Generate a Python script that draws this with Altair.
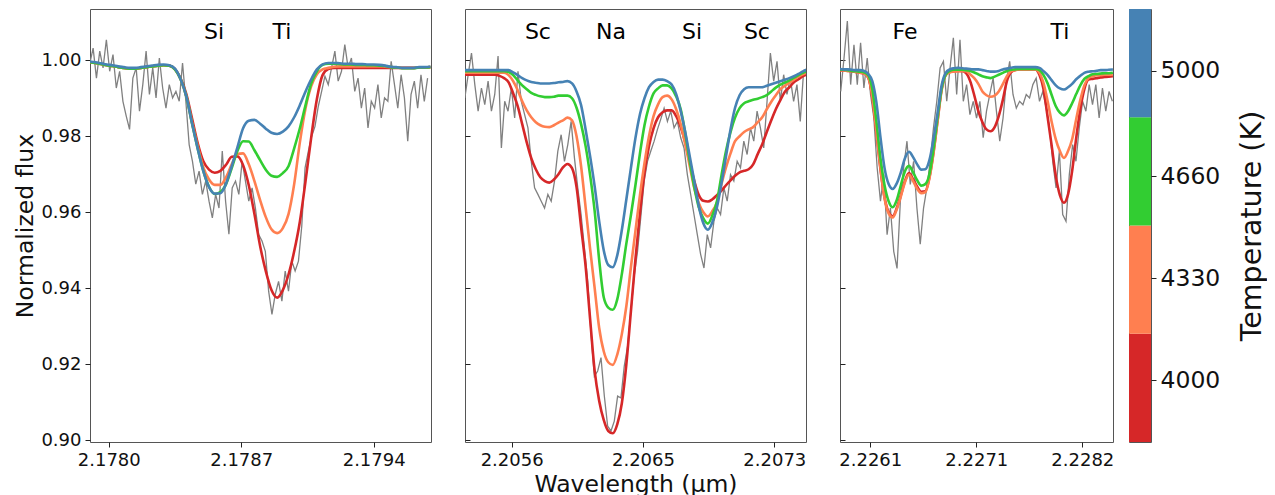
import altair as alt
import pandas as pd

FONT = "DejaVu Sans"

TEMPS = [4000, 4330, 4660, 5000]
LINE_COLORS = ["#d62728", "#ff7f50", "#32cd32", "#4682b4"]
OBS_COLOR = "#808080"
CB_EDGES = [3800, 4150, 4500, 4850, 5200]

Y_DOMAIN = [0.8995, 1.0135]
Y_TICKS = [0.90, 0.92, 0.94, 0.96, 0.98, 1.00]
LABEL_FLUX = 1.0055

# ---------------- panel 1 ----------------
P1_DOMAIN = [2.177901, 2.179703]
P1_TICKS = [2.1780, 2.1787, 2.1794]
P1_TICK_LABELS = ["2.1780", "2.1787", "2.1794"]
P1_LINES = ["Si", "Ti"]
P1_LINE_WL = [2.178556, 2.178915]
P1_OBS_W0, P1_OBS_STEP = 2.1779, 0.0000175
P1_OBS = [0.9992, 1.0032, 0.9953, 1.0024, 0.9980, 1.0054, 0.9971, 1.0015, 0.9927, 0.9971,
          0.9892, 0.9853, 0.9818, 0.9953, 0.9980, 0.9866, 0.9936, 1.0024, 0.9910, 0.9980,
          0.9901, 1.0006, 0.9927, 0.9874, 0.9936, 0.9901, 0.9918, 0.9892, 0.9993, 0.9892,
          0.9778, 0.9734, 0.9674, 0.9708, 0.9647, 0.9682, 0.9629, 0.9585, 0.9647, 0.9611,
          0.9761, 0.9629, 0.9542, 0.9664, 0.9682, 0.9647, 0.9734, 0.9682, 0.9629, 0.9664,
          0.9611, 0.9541, 0.9524, 0.9497, 0.9392, 0.9331, 0.9384, 0.9418, 0.9366, 0.9445,
          0.9392, 0.9471, 0.9445, 0.9471, 0.9563, 0.9717, 0.9761, 0.9800, 0.9826, 0.9879,
          0.9918, 0.9958, 0.9936, 0.9980, 1.0024, 0.9945, 0.9971, 1.0041, 0.9980, 1.0006,
          0.9918, 0.9953, 0.9874, 0.9927, 0.9822, 0.9892, 0.9874, 0.9936, 0.9848, 0.9901,
          0.9892, 0.9997, 0.9936, 0.9874, 0.9962, 0.9901, 0.9787, 0.9910, 0.9945, 0.9874,
          0.9962, 0.9892, 0.9953]
P1_MOD_W0, P1_MOD_STEP = 2.17790, 0.00003
P1_T5000 = [0.9997, 0.9995, 0.9992, 0.9989, 0.9987, 0.9984, 0.9982, 0.9980, 0.9980, 0.9982,
            0.9984, 0.9986, 0.9988, 0.9989, 0.9987, 0.9978, 0.9950, 0.9905, 0.9834, 0.9768,
            0.9708, 0.9666, 0.9649, 0.9650, 0.9675, 0.9721, 0.9771, 0.9821, 0.9841, 0.9843,
            0.9833, 0.9820, 0.9809, 0.9806, 0.9812, 0.9826, 0.9850, 0.9882, 0.9918, 0.9950,
            0.9976, 0.9989, 0.9993, 0.9993, 0.9992, 0.9991, 0.9991, 0.9990, 0.9990, 0.9989,
            0.9989, 0.9988, 0.9986, 0.9983, 0.9982, 0.9980, 0.9980, 0.9980, 0.9982, 0.9982,
            0.9983]
P1_T4660 = [0.9995, 0.9993, 0.9990, 0.9987, 0.9985, 0.9982, 0.9980, 0.9978, 0.9978, 0.9980,
            0.9982, 0.9984, 0.9986, 0.9987, 0.9986, 0.9976, 0.9950, 0.9905, 0.9834, 0.9768,
            0.9708, 0.9667, 0.9648, 0.9653, 0.9674, 0.9716, 0.9761, 0.9787, 0.9786, 0.9763,
            0.9737, 0.9712, 0.9696, 0.9693, 0.9703, 0.9721, 0.9768, 0.9821, 0.9882, 0.9939,
            0.9971, 0.9988, 0.9991, 0.9991, 0.9990, 0.9989, 0.9989, 0.9988, 0.9988, 0.9987,
            0.9987, 0.9986, 0.9985, 0.9982, 0.9981, 0.9979, 0.9979, 0.9979, 0.9981, 0.9981,
            0.9982]
P1_T4330 = [0.9995, 0.9993, 0.9990, 0.9987, 0.9985, 0.9982, 0.9980, 0.9978, 0.9978, 0.9980,
            0.9982, 0.9984, 0.9986, 0.9987, 0.9986, 0.9976, 0.9950, 0.9905, 0.9837, 0.9774,
            0.9718, 0.9686, 0.9672, 0.9672, 0.9692, 0.9726, 0.9753, 0.9755, 0.9726, 0.9682,
            0.9632, 0.9587, 0.9555, 0.9545, 0.9558, 0.9595, 0.9674, 0.9784, 0.9874, 0.9932,
            0.9963, 0.9976, 0.9980, 0.9983, 0.9984, 0.9984, 0.9984, 0.9984, 0.9984, 0.9984,
            0.9984, 0.9984, 0.9983, 0.9982, 0.9981, 0.9980, 0.9980, 0.9980, 0.9981, 0.9981,
            0.9982]
P1_T4000 = [0.9995, 0.9993, 0.9990, 0.9987, 0.9985, 0.9982, 0.9980, 0.9978, 0.9978, 0.9980,
            0.9982, 0.9984, 0.9986, 0.9987, 0.9986, 0.9977, 0.9952, 0.9911, 0.9847, 0.9782,
            0.9734, 0.9712, 0.9704, 0.9709, 0.9725, 0.9746, 0.9747, 0.9724, 0.9671, 0.9595,
            0.9511, 0.9445, 0.9395, 0.9375, 0.9395, 0.9436, 0.9497, 0.9575, 0.9682, 0.9797,
            0.9898, 0.9961, 0.9977, 0.9980, 0.9980, 0.9980, 0.9980, 0.9980, 0.9980, 0.9980,
            0.9980, 0.9980, 0.9980, 0.9980, 0.9980, 0.9980, 0.9980, 0.9980, 0.9981, 0.9981,
            0.9982]

# ---------------- panel 2 ----------------
P2_DOMAIN = [2.205321, 2.207580]
P2_TICKS = [2.20563, 2.20650, 2.20737]
P2_TICK_LABELS = ["2.2056", "2.2065", "2.2073"]
P2_LINES = ["Sc", "Na", "Si", "Sc"]
P2_LINE_WL = [2.205804, 2.206288, 2.206825, 2.207255]
P2_OBS_W0, P2_OBS_STEP = 2.20532, 0.000022
P2_OBS = [0.9901, 0.9962, 1.0019, 0.9936, 0.9866, 0.9927, 0.9883, 0.9945, 0.9866, 0.9910,
          1.0011, 0.9769, 0.9892, 0.9866, 0.9927, 0.9848, 0.9971, 0.9892, 0.9857, 0.9822,
          0.9734, 0.9664, 0.9647, 0.9629, 0.9611, 0.9647, 0.9629, 0.9682, 0.9761, 0.9804,
          0.9734, 0.9778, 0.9839, 0.9743, 0.9664, 0.9594, 0.9506, 0.9418, 0.9279, 0.9168,
          0.9182, 0.9217, 0.9116, 0.9037, 0.9024, 0.9050, 0.9116, 0.9111, 0.9195, 0.9247,
          0.9339, 0.9432, 0.9497, 0.9589, 0.9682, 0.9734, 0.9761, 0.9787, 0.9818, 0.9845,
          0.9874, 0.9839, 0.9866, 0.9822, 0.9839, 0.9796, 0.9769, 0.9699, 0.9647, 0.9594,
          0.9541, 0.9489, 0.9453, 0.9541, 0.9506, 0.9576, 0.9611, 0.9594, 0.9664, 0.9629,
          0.9699, 0.9682, 0.9734, 0.9717, 0.9787, 0.9752, 0.9822, 0.9787, 0.9866, 0.9822,
          0.9769, 0.9892, 1.0019, 0.9945, 0.9997, 0.9892, 0.9962, 0.9910, 0.9953, 0.9892,
          0.9936, 0.9839, 0.9971]
P2_MOD_W0, P2_MOD_STEP = 2.20531, 0.00003
P2_T5000 = [0.9974, 0.9974, 0.9974, 0.9974, 0.9974, 0.9974, 0.9974, 0.9974, 0.9974, 0.9974,
            0.9974, 0.9968, 0.9961, 0.9953, 0.9947, 0.9943, 0.9941, 0.9939, 0.9939, 0.9939,
            0.9940, 0.9942, 0.9943, 0.9945, 0.9939, 0.9918, 0.9882, 0.9818, 0.9747, 0.9668,
            0.9576, 0.9500, 0.9461, 0.9455, 0.9487, 0.9553, 0.9634, 0.9716, 0.9795, 0.9858,
            0.9900, 0.9929, 0.9943, 0.9949, 0.9949, 0.9945, 0.9936, 0.9911, 0.9866, 0.9811,
            0.9747, 0.9682, 0.9616, 0.9571, 0.9554, 0.9574, 0.9613, 0.9676, 0.9747, 0.9818,
            0.9875, 0.9908, 0.9924, 0.9929, 0.9929, 0.9929, 0.9929, 0.9933, 0.9937, 0.9941,
            0.9945, 0.9949, 0.9953, 0.9958, 0.9964, 0.9971, 0.9976]
P2_T4660 = [0.9971, 0.9971, 0.9971, 0.9971, 0.9971, 0.9971, 0.9971, 0.9971, 0.9971, 0.9971,
            0.9969, 0.9961, 0.9947, 0.9934, 0.9924, 0.9914, 0.9909, 0.9905, 0.9903, 0.9903,
            0.9904, 0.9907, 0.9907, 0.9907, 0.9900, 0.9875, 0.9832, 0.9774, 0.9697, 0.9603,
            0.9474, 0.9376, 0.9349, 0.9343, 0.9371, 0.9437, 0.9518, 0.9592, 0.9671, 0.9755,
            0.9829, 0.9879, 0.9913, 0.9926, 0.9934, 0.9934, 0.9926, 0.9905, 0.9871, 0.9808,
            0.9734, 0.9666, 0.9613, 0.9584, 0.9570, 0.9592, 0.9629, 0.9697, 0.9761, 0.9811,
            0.9849, 0.9874, 0.9887, 0.9892, 0.9896, 0.9899, 0.9903, 0.9908, 0.9918, 0.9928,
            0.9936, 0.9941, 0.9947, 0.9954, 0.9961, 0.9967, 0.9971]
P2_T4330 = [0.9967, 0.9967, 0.9967, 0.9967, 0.9967, 0.9967, 0.9967, 0.9967, 0.9967, 0.9967,
            0.9961, 0.9945, 0.9921, 0.9892, 0.9868, 0.9850, 0.9837, 0.9829, 0.9825, 0.9824,
            0.9829, 0.9836, 0.9842, 0.9849, 0.9842, 0.9800, 0.9721, 0.9613, 0.9503, 0.9400,
            0.9295, 0.9234, 0.9205, 0.9198, 0.9226, 0.9279, 0.9353, 0.9455, 0.9550, 0.9645,
            0.9729, 0.9800, 0.9853, 0.9884, 0.9903, 0.9907, 0.9897, 0.9871, 0.9832, 0.9779,
            0.9721, 0.9663, 0.9624, 0.9600, 0.9589, 0.9603, 0.9626, 0.9674, 0.9718, 0.9755,
            0.9787, 0.9800, 0.9811, 0.9818, 0.9824, 0.9837, 0.9850, 0.9871, 0.9891, 0.9908,
            0.9924, 0.9933, 0.9941, 0.9949, 0.9957, 0.9963, 0.9968]
P2_T4000 = [0.9962, 0.9962, 0.9962, 0.9962, 0.9962, 0.9962, 0.9962, 0.9962, 0.9959, 0.9953,
            0.9942, 0.9913, 0.9879, 0.9832, 0.9784, 0.9742, 0.9713, 0.9692, 0.9682, 0.9678,
            0.9686, 0.9700, 0.9718, 0.9727, 0.9716, 0.9666, 0.9561, 0.9458, 0.9318, 0.9182,
            0.9103, 0.9053, 0.9024, 0.9018, 0.9042, 0.9097, 0.9200, 0.9339, 0.9476, 0.9597,
            0.9703, 0.9774, 0.9821, 0.9850, 0.9863, 0.9868, 0.9868, 0.9853, 0.9824, 0.9784,
            0.9732, 0.9682, 0.9645, 0.9630, 0.9628, 0.9634, 0.9645, 0.9657, 0.9671, 0.9684,
            0.9696, 0.9705, 0.9709, 0.9713, 0.9726, 0.9753, 0.9779, 0.9811, 0.9842, 0.9871,
            0.9895, 0.9917, 0.9929, 0.9942, 0.9950, 0.9958, 0.9963]

# ---------------- panel 3 ----------------
P3_DOMAIN = [2.225803, 2.228481]
P3_TICKS = [2.22610, 2.22714, 2.22818]
P3_TICK_LABELS = ["2.2261", "2.2271", "2.2282"]
P3_LINES = ["Fe", "Ti"]
P3_LINE_WL = [2.226440, 2.227961]
P3_OBS_W0, P3_OBS_STEP = 2.22581, 0.0000325
P3_OBS = [0.9918, 1.0006, 1.0103, 0.9936, 1.0041, 0.9936, 1.0046, 0.9927, 1.0006, 0.9910,
          0.9848, 0.9717, 0.9629, 0.9699, 0.9541, 0.9611, 0.9497, 0.9452, 0.9629, 0.9717,
          0.9787, 0.9673, 0.9734, 0.9611, 0.9516, 0.9611, 0.9664, 0.9734, 0.9822, 0.9892,
          0.9980, 0.9997, 0.9892, 0.9980, 1.0059, 0.9910, 1.0054, 0.9892, 0.9936, 0.9857,
          0.9892, 0.9848, 0.9892, 0.9796, 0.9866, 0.9910, 0.9953, 0.9866, 0.9787, 0.9848,
          0.9945, 0.9997, 0.9910, 0.9874, 0.9892, 0.9883, 0.9910, 0.9901, 0.9936, 0.9953,
          0.9892, 0.9918, 0.9874, 0.9822, 0.9734, 0.9664, 0.9761, 0.9594, 0.9576, 0.9699,
          0.9778, 0.9734, 0.9822, 0.9892, 0.9866, 0.9936, 0.9883, 0.9936, 0.9848, 0.9927,
          0.9866, 0.9918, 0.9892]
P3_MOD_W0, P3_MOD_STEP = 2.22580, 0.00004
P3_T5000 = [0.9977, 0.9976, 0.9976, 0.9975, 0.9974, 0.9974, 0.9972, 0.9964, 0.9945, 0.9889,
            0.9797, 0.9716, 0.9674, 0.9661, 0.9676, 0.9705, 0.9742, 0.9759, 0.9745, 0.9726,
            0.9712, 0.9713, 0.9737, 0.9792, 0.9861, 0.9934, 0.9967, 0.9976, 0.9979, 0.9980,
            0.9979, 0.9978, 0.9977, 0.9976, 0.9976, 0.9974, 0.9972, 0.9970, 0.9970, 0.9972,
            0.9976, 0.9978, 0.9980, 0.9982, 0.9982, 0.9982, 0.9982, 0.9982, 0.9982, 0.9980,
            0.9971, 0.9961, 0.9947, 0.9934, 0.9926, 0.9923, 0.9929, 0.9938, 0.9950, 0.9959,
            0.9967, 0.9970, 0.9971, 0.9972, 0.9974, 0.9974, 0.9975, 0.9976]
P3_T4660 = [0.9975, 0.9975, 0.9974, 0.9972, 0.9971, 0.9970, 0.9968, 0.9961, 0.9924, 0.9839,
            0.9742, 0.9671, 0.9629, 0.9613, 0.9632, 0.9671, 0.9708, 0.9722, 0.9705, 0.9684,
            0.9670, 0.9674, 0.9700, 0.9766, 0.9850, 0.9926, 0.9962, 0.9972, 0.9975, 0.9975,
            0.9975, 0.9974, 0.9972, 0.9968, 0.9963, 0.9958, 0.9955, 0.9953, 0.9957, 0.9962,
            0.9967, 0.9972, 0.9975, 0.9976, 0.9977, 0.9977, 0.9977, 0.9977, 0.9977, 0.9974,
            0.9961, 0.9939, 0.9908, 0.9879, 0.9862, 0.9855, 0.9866, 0.9887, 0.9911, 0.9934,
            0.9951, 0.9958, 0.9963, 0.9964, 0.9965, 0.9966, 0.9966, 0.9967]
P3_T4330 = [0.9974, 0.9973, 0.9972, 0.9971, 0.9969, 0.9967, 0.9965, 0.9955, 0.9905, 0.9813,
            0.9716, 0.9637, 0.9597, 0.9586, 0.9608, 0.9642, 0.9679, 0.9699, 0.9682, 0.9662,
            0.9650, 0.9653, 0.9689, 0.9755, 0.9839, 0.9921, 0.9961, 0.9968, 0.9970, 0.9971,
            0.9971, 0.9971, 0.9963, 0.9953, 0.9938, 0.9918, 0.9908, 0.9904, 0.9907, 0.9918,
            0.9937, 0.9958, 0.9971, 0.9974, 0.9976, 0.9976, 0.9976, 0.9976, 0.9976, 0.9967,
            0.9939, 0.9892, 0.9837, 0.9792, 0.9761, 0.9743, 0.9761, 0.9792, 0.9845, 0.9895,
            0.9934, 0.9953, 0.9958, 0.9961, 0.9961, 0.9962, 0.9962, 0.9962]
P3_T4000 = [0.9974, 0.9973, 0.9972, 0.9971, 0.9969, 0.9967, 0.9965, 0.9954, 0.9903, 0.9811,
            0.9713, 0.9639, 0.9600, 0.9589, 0.9611, 0.9645, 0.9682, 0.9703, 0.9687, 0.9667,
            0.9654, 0.9655, 0.9692, 0.9758, 0.9842, 0.9924, 0.9962, 0.9970, 0.9971, 0.9972,
            0.9972, 0.9966, 0.9945, 0.9908, 0.9866, 0.9837, 0.9818, 0.9813, 0.9824, 0.9853,
            0.9895, 0.9945, 0.9968, 0.9974, 0.9976, 0.9976, 0.9976, 0.9976, 0.9976, 0.9961,
            0.9924, 0.9850, 0.9774, 0.9695, 0.9645, 0.9625, 0.9647, 0.9708, 0.9795, 0.9871,
            0.9924, 0.9949, 0.9951, 0.9953, 0.9955, 0.9956, 0.9957, 0.9958]

PLOT_H = 433


def label_expr(vals, labels):
    expr = "'%s'" % labels[-1]
    for i in range(len(vals) - 2, -1, -1):
        mid = (vals[i] + vals[i + 1]) / 2
        expr = "datum.value < %.7f ? '%s' : (%s)" % (mid, labels[i], expr)
    return expr


def grid_df(w0, step, flux):
    return pd.DataFrame({"w": [w0 + step * i for i in range(len(flux))], "f": flux})


def make_panel(dom, ticks, tick_labels, names, name_wl, obs_w0, obs_step, obs,
               mod_w0, mod_step, models, width, first, xtitle):
    xaxis_kw = dict(values=ticks, labelExpr=label_expr(ticks, tick_labels), tickSize=5,
                    labelFontSize=18, labelPadding=4, labelFlush=False,
                    titleFontSize=23.5, titlePadding=3)
    if xtitle:
        xaxis = alt.Axis(title=xtitle, **xaxis_kw)
    else:
        xaxis = alt.Axis(title=None, **xaxis_kw)
    if first:
        yaxis = alt.Axis(values=Y_TICKS, format=".2f", title="Normalized flux", tickSize=5,
                         labelFontSize=18, labelPadding=4, labelFlush=False,
                         titleFontSize=23.5, titlePadding=3)
    else:
        yaxis = alt.Axis(values=Y_TICKS, labels=False, title=None, tickSize=5, offset=-5)
    X = alt.X("w:Q", scale=alt.Scale(domain=dom, nice=False, zero=False), axis=xaxis)
    Y = alt.Y("f:Q", scale=alt.Scale(domain=Y_DOMAIN, nice=False, zero=False), axis=yaxis)

    layers = [alt.Chart(grid_df(obs_w0, obs_step, obs)).mark_line(
        color=OBS_COLOR, strokeWidth=1.3, clip=True).encode(x=X, y=Y)]
    for arr, col in zip(models, LINE_COLORS):
        layers.append(alt.Chart(grid_df(mod_w0, mod_step, arr)).mark_line(
            color=col, strokeWidth=2.6, interpolate="monotone", clip=True).encode(x=X, y=Y))
    lab = pd.DataFrame({"w": name_wl, "f": [LABEL_FLUX for _ in names], "name": names})
    layers.append(alt.Chart(lab).mark_text(
        font=FONT, fontSize=22, color="#000000", baseline="alphabetic", align="center"
    ).encode(x=X, y=Y, text="name:N"))
    return alt.layer(*layers).properties(width=width, height=PLOT_H)


p1 = make_panel(P1_DOMAIN, P1_TICKS, P1_TICK_LABELS, P1_LINES, P1_LINE_WL,
                P1_OBS_W0, P1_OBS_STEP, P1_OBS, P1_MOD_W0, P1_MOD_STEP,
                [P1_T4000, P1_T4330, P1_T4660, P1_T5000], 341, True, None)
p2 = make_panel(P2_DOMAIN, P2_TICKS, P2_TICK_LABELS, P2_LINES, P2_LINE_WL,
                P2_OBS_W0, P2_OBS_STEP, P2_OBS, P2_MOD_W0, P2_MOD_STEP,
                [P2_T4000, P2_T4330, P2_T4660, P2_T5000], 341, False, "Wavelength (µm)")
p3 = make_panel(P3_DOMAIN, P3_TICKS, P3_TICK_LABELS, P3_LINES, P3_LINE_WL,
                P3_OBS_W0, P3_OBS_STEP, P3_OBS, P3_MOD_W0, P3_MOD_STEP,
                [P3_T4000, P3_T4330, P3_T4660, P3_T5000], 273, False, None)

cb_df = pd.DataFrame({"lo": CB_EDGES[:-1], "hi": CB_EDGES[1:], "c": LINE_COLORS})
cb = alt.Chart(cb_df).mark_rect().encode(
    y=alt.Y("lo:Q", scale=alt.Scale(domain=[CB_EDGES[0], CB_EDGES[-1]], nice=False, zero=False),
            axis=alt.Axis(orient="right", values=TEMPS, format="d", title="Temperature (K)",
                          tickSize=5, labelFontSize=23.5, labelPadding=4,
                          titleFontSize=28.5, titleAngle=270, titleBaseline="top",
                          titlePadding=18)),
    y2="hi:Q",
    color=alt.Color("c:N", scale=None),
).properties(width=22, height=PLOT_H)


def spacer():
    # invisible, zero-size filler that only widens the gap between two panels
    return alt.Chart(pd.DataFrame({"a": [0]})).mark_point(
        opacity=0, size=0, strokeWidth=0
    ).encode(
        x=alt.value(1), y=alt.value(200)
    ).properties(width=2, height=PLOT_H, view=alt.ViewBackground(stroke="transparent"))


chart = alt.hconcat(p1, spacer(), p2, spacer(), p3, cb, spacing=16, bounds="flush").properties(
    padding={"left": 5, "top": 0, "right": 0, "bottom": 0}
).configure_view(
    stroke="#555555", strokeWidth=1
).configure_axis(
    grid=False, domain=False, tickColor="#222222", tickWidth=1,
    labelColor="#111111", titleColor="#111111", labelFont=FONT, titleFont=FONT,
    titleFontWeight="normal"
)

chart.save("out.html", embed_options={"renderer": "svg", "actions": False})
